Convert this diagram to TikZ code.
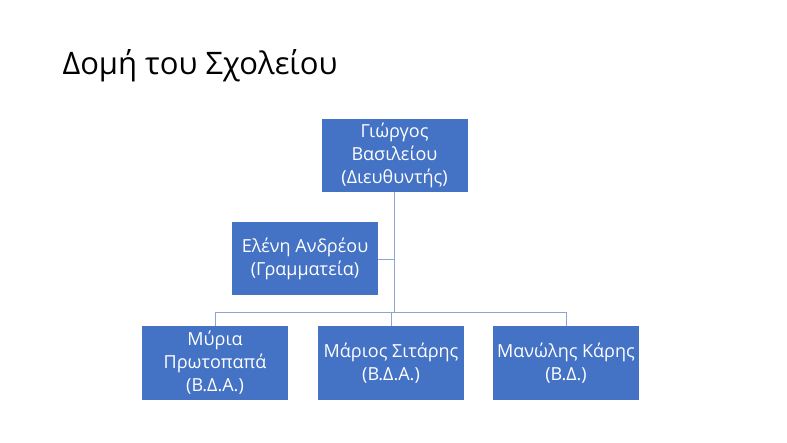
\documentclass[tikz,border=0pt]{standalone}
\usepackage{fontspec}
\setmainfont{Open Sans}
\definecolor{boxblue}{HTML}{4472C4}
\definecolor{linkblue}{HTML}{8EA5CC}
\begin{document}
\begin{tikzpicture}[x=1pt,y=-1pt,
  person/.style={draw=none,fill=boxblue,text=white,align=center,
    minimum width=146pt,minimum height=73pt,inner sep=1pt,
    font=\fontsize{18}{23}\selectfont},
  link/.style={draw=linkblue,line width=0.9pt}]
\useasboundingbox (0,0) rectangle (787,443);
\node[anchor=west,font=\fontsize{31}{36}\selectfont] (title) at (59,66) {Δομή του Σχολείου};
\node[person] (dir) at (394.5,155.5) {Γιώργος\\Βασιλείου\\(Διευθυντής)};
\node[person] (sec) at (305,259) {Ελένη Ανδρέου\\(Γραμματεία)};
\node[person] (m1) at (215,363) {Μύρια\\Πρωτοπαπά\\(Β.Δ.Α.)};
\node[person] (m2) at (391,363) {Μάριος Σιτάρης\\(Β.Δ.Α.)};
\node[person] (m3) at (566,363) {Μανώλης Κάρης\\(Β.Δ.)};
\coordinate (hub) at (dir.south |- 0,312);
\draw[link] (dir.south) -- (hub);
\draw[link] (sec.east) -- (sec.east -| dir.south);
\draw[link] (m1.north) -- (m1.north |- hub) -- (m3.north |- hub) -- (m3.north);
\draw[link] (m2.north) -- (m2.north |- hub);
\end{tikzpicture}
\end{document}
